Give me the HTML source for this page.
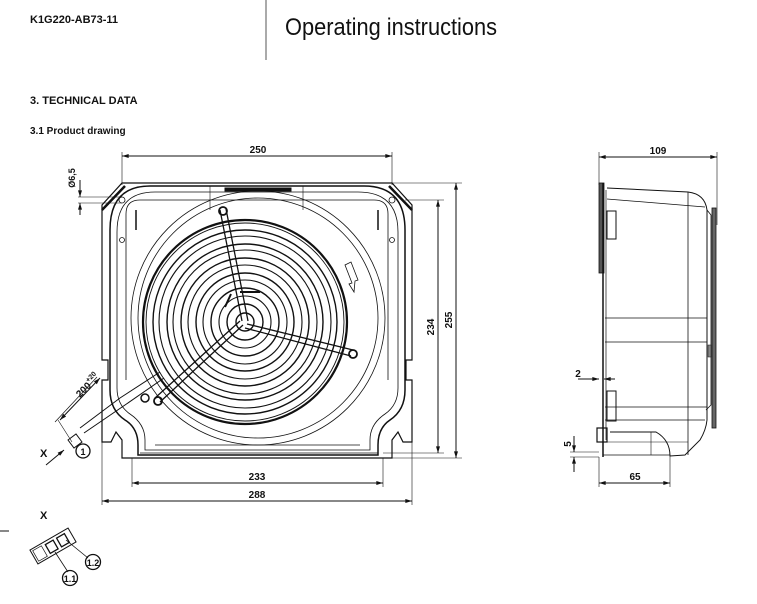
<!DOCTYPE html>
<html><head><meta charset="utf-8"><style>
html,body{margin:0;padding:0;background:#fff}
svg{display:block}
text{font-family:"Liberation Sans",Arial,sans-serif;fill:#111}
</style></head><body>
<svg width="757" height="604" viewBox="0 0 757 604" xmlns="http://www.w3.org/2000/svg">
<defs>
<marker id="a" viewBox="0 0 10 6" refX="10" refY="3" markerWidth="7" markerHeight="4" orient="auto-start-reverse" markerUnits="userSpaceOnUse"><path d="M0,0L10,3L0,6z" fill="#111"/></marker>
</defs>
<text x="30" y="23" font-size="11" font-weight="bold">K1G220-AB73-11</text>
<line x1="266" y1="0" x2="266" y2="60" stroke="#555" stroke-width="1"/>
<text x="285" y="35" font-size="24" textLength="212" lengthAdjust="spacingAndGlyphs">Operating instructions</text>
<text x="30" y="104" font-size="11" font-weight="bold">3. TECHNICAL DATA</text>
<text x="30" y="134" font-size="10" font-weight="bold">3.1 Product drawing</text>

<g fill="none" stroke="#111" stroke-width="1">
<line x1="122" y1="156" x2="392" y2="156" marker-start="url(#a)" marker-end="url(#a)"/>
<line x1="122" y1="152" x2="122" y2="185" stroke-width=".6"/>
<line x1="392" y1="152" x2="392" y2="185" stroke-width=".6"/>
<line x1="456" y1="183" x2="456" y2="458" marker-start="url(#a)" marker-end="url(#a)"/>
<line x1="438" y1="200" x2="438" y2="453" marker-start="url(#a)" marker-end="url(#a)"/>
<line x1="392" y1="183" x2="462" y2="183" stroke-width=".6"/>
<line x1="405" y1="200" x2="444" y2="200" stroke-width=".6"/>
<line x1="383" y1="453" x2="444" y2="453" stroke-width=".6"/>
<line x1="383" y1="458" x2="462" y2="458" stroke-width=".6"/>
<line x1="132" y1="483" x2="383" y2="483" marker-start="url(#a)" marker-end="url(#a)"/>
<line x1="102" y1="501" x2="412" y2="501" marker-start="url(#a)" marker-end="url(#a)"/>
<line x1="132" y1="458" x2="132" y2="487" stroke-width=".6"/>
<line x1="383" y1="458" x2="383" y2="487" stroke-width=".6"/>
<line x1="102" y1="442" x2="102" y2="505" stroke-width=".6"/>
<line x1="412" y1="442" x2="412" y2="505" stroke-width=".6"/>
<line x1="78" y1="197" x2="122" y2="197" stroke-width=".6"/>
<line x1="78" y1="203" x2="122" y2="203" stroke-width=".6"/>
<line x1="80" y1="180" x2="80" y2="197" marker-end="url(#a)"/>
<line x1="80" y1="215" x2="80" y2="203" marker-end="url(#a)"/>

<path d="M122,183 L392,183 L412,205 L412,360 L406,360 L406,380 L412,380 L412,442 L403,442 L398,432 L392,440 L392,458 L122,458 L122,440 L116,432 L111,442 L102,442 L102,380 L108,380 L108,360 L102,360 L102,205 Z" stroke-width="1.2"/>
<path d="M125,186 L102,210 M389,186 L412,210" stroke-width="2.5"/>
<path d="M150,186 L364,186 Q405,186 405,230 L405,390 Q405,410 390,420 Q378,428 378,445 L378,455 L138,455 L138,445 Q138,428 125,420 Q110,410 110,390 L110,230 Q110,186 150,186 Z" stroke-width="1.5"/>
<path d="M155,192 L358,192 Q398,192 398,232 L398,388 Q398,405 385,414 Q370,424 370,440 L370,450 L145,450 L145,440 Q145,424 130,414 Q117,405 117,388 L117,232 Q117,192 155,192 Z" stroke-width=".8"/>
<path d="M140,200 L374,200 Q388,200 388,214 L388,380 M126,380 L126,214 Q126,200 140,200" stroke-width=".8"/>
<path d="M136,210 L136,230 M378,210 L378,230" stroke-width="1.5"/>
<line x1="140" y1="453" x2="378" y2="453" stroke-width=".8"/>
<line x1="155" y1="445" x2="360" y2="445" stroke-width=".8"/>
<rect x="225" y="188" width="66" height="3" fill="#111"/>
<line x1="210" y1="186" x2="210" y2="210" stroke-width=".6"/>
<line x1="303" y1="186" x2="303" y2="210" stroke-width=".6"/>
<circle cx="258" cy="318" r="127" stroke-width=".8"/>
<circle cx="258" cy="318" r="120" stroke-width=".8"/>
<g transform="translate(245,322)">
<circle r="102" stroke-width="2.2"/>
<circle r="99" stroke-width=".9"/>
<circle r="92" stroke-width="1.4"/>
<circle r="86" stroke-width="1.1"/>
<circle r="78" stroke-width="1.4"/>
<circle r="72" stroke-width="1.1"/>
<circle r="64" stroke-width="1.4"/>
<circle r="57" stroke-width="1.1"/>
<circle r="49" stroke-width="1.4"/>
<circle r="42" stroke-width="1.1"/>
<circle r="34" stroke-width="1.4"/>
<circle r="26" stroke-width="1.1"/>
<circle r="18" stroke-width="1.4"/>
<circle r="9" stroke-width="1.4"/>
<path d="M-3,-1 L-25,-112 M3,-1 L-19,-113 M2,2 L108,28 M0,6 L106,34 M-2,3 L-85,80 M-5,-1 L-90,76" stroke-width="1.3"/>
<circle cx="-22" cy="-111" r="4" stroke-width="1.8"/>
<circle cx="108" cy="32" r="4" stroke-width="1.8"/>
<circle cx="-87" cy="79" r="4" stroke-width="1.8"/>
<path d="M-20,-15 L-14,-28 M-5,-30 L15,-30" stroke-width="2"/>
</g>
<path d="M160,372 L120,398 L80,428 M164,378 L125,405 L84,433" stroke-width="1"/>
<circle cx="145" cy="398" r="4" stroke-width="1.5"/>
<path d="M68,440 L76,434 L82,442 L74,448 Z" stroke-width="1"/>
<circle cx="122" cy="200" r="3" stroke-width=".8"/>
<circle cx="392" cy="200" r="3" stroke-width=".8"/>
<circle cx="122" cy="240" r="2.5" stroke-width=".8"/>
<circle cx="392" cy="240" r="2.5" stroke-width=".8"/>
<path d="M345,265 L352,283 L349,284 L354,292 L355,281 L358,280 L351,262 Z" stroke-width=".8"/>
<line x1="55" y1="422" x2="97" y2="377" stroke-width=".7"/>
<line x1="60" y1="420" x2="100" y2="378" marker-start="url(#a)" marker-end="url(#a)"/>
<line x1="72" y1="442" x2="58" y2="420" stroke-width=".6"/>
<line x1="46" y1="465" x2="64" y2="450" marker-end="url(#a)"/>
<circle cx="83" cy="451" r="7" stroke-width="1.3"/>

<line x1="599" y1="157" x2="717" y2="157" marker-start="url(#a)" marker-end="url(#a)"/>
<line x1="599" y1="152" x2="599" y2="185" stroke-width=".6"/>
<line x1="717" y1="152" x2="717" y2="225" stroke-width=".6"/>
<rect x="599" y="183" width="5" height="90" fill="#555" stroke-width=".8"/>
<line x1="603" y1="183" x2="603" y2="457" stroke-width="1.5"/>
<line x1="606" y1="190" x2="606" y2="440" stroke-width=".7"/>
<rect x="607" y="211" width="9" height="28" stroke-width="1"/>
<path d="M607,188 L688,192 Q705,194 707,210 L707,420 Q706,430 700,440 L685,455 L670,456 Q670,440 656,432 L610,432" stroke-width="1"/>
<line x1="607" y1="199" x2="705" y2="207" stroke-width=".8"/>
<line x1="688" y1="192" x2="688" y2="455" stroke-width=".8"/>
<line x1="605" y1="318" x2="707" y2="318" stroke-width=".8"/>
<line x1="605" y1="342" x2="707" y2="342" stroke-width=".8"/>
<line x1="605" y1="407" x2="707" y2="407" stroke-width=".8"/>
<line x1="605" y1="420" x2="705" y2="420" stroke-width=".8"/>
<rect x="712" y="208" width="4" height="220" fill="#666" stroke-width=".8"/>
<path d="M707,210 L711,215 L711,405 L706,410" stroke-width=".8"/>
<rect x="708" y="345" width="3" height="12" fill="#888" stroke-width=".5"/>
<rect x="607" y="391" width="9" height="30" stroke-width="1"/>
<rect x="597" y="428" width="10" height="14" stroke-width="1.2"/>
<line x1="603" y1="455" x2="670" y2="455" stroke-width=".8"/>
<line x1="603" y1="442" x2="688" y2="442" stroke-width=".6"/>
<line x1="651" y1="432" x2="651" y2="455" stroke-width=".6"/>
<line x1="599" y1="483" x2="670" y2="483" marker-start="url(#a)" marker-end="url(#a)"/>
<line x1="599" y1="457" x2="599" y2="487" stroke-width=".6"/>
<line x1="670" y1="455" x2="670" y2="487" stroke-width=".6"/>
<line x1="578" y1="379" x2="599" y2="379" marker-end="url(#a)"/>
<line x1="615" y1="379" x2="604" y2="379" marker-end="url(#a)"/>
<line x1="570" y1="452" x2="599" y2="452" stroke-width=".6"/>
<line x1="570" y1="457" x2="599" y2="457" stroke-width=".6"/>
<line x1="574" y1="436" x2="574" y2="452" marker-end="url(#a)"/>
<line x1="574" y1="472" x2="574" y2="457" marker-end="url(#a)"/>

<line x1="0" y1="531" x2="9" y2="531" stroke-width="1"/>
<g transform="translate(53,546) rotate(-30)">
<rect x="-22" y="-8" width="44" height="16" stroke-width="1"/>
<rect x="-20" y="-6" width="10" height="12" stroke-width=".7"/>
<rect x="-6" y="-5" width="9" height="10" stroke-width="1.3"/>
<rect x="7" y="-5" width="9" height="10" stroke-width="1.3"/>
</g>
<line x1="55" y1="552" x2="68" y2="572" stroke-width=".8"/>
<line x1="66" y1="540" x2="88" y2="558" stroke-width=".8"/>
<circle cx="70" cy="578" r="7.5" stroke-width="1.3"/>
<circle cx="93" cy="562" r="7.5" stroke-width="1.3"/>
</g>
<g font-weight="bold" font-size="10">
<text x="258" y="153" text-anchor="middle">250</text>
<text x="257" y="480" text-anchor="middle">233</text>
<text x="257" y="498" text-anchor="middle">288</text>
<text transform="translate(452,320) rotate(-90)" text-anchor="middle">255</text>
<text transform="translate(434,327) rotate(-90)" text-anchor="middle">234</text>
<text transform="translate(75,178) rotate(-90)" text-anchor="middle" font-size="9">Ø6,5</text>
<text transform="translate(80,398) rotate(-45)" font-size="10">200<tspan font-size="7" dy="-5">+20</tspan></text>
<text x="658" y="154" text-anchor="middle">109</text>
<text x="635" y="480" text-anchor="middle">65</text>
<text x="578" y="377" text-anchor="middle">2</text>
<text transform="translate(571,444) rotate(-90)" text-anchor="middle">5</text>
<text x="40" y="457" font-size="11">X</text>
<text x="40" y="519" font-size="11">X</text>
</g>
<g font-size="9" text-anchor="middle" font-weight="bold">
<text x="83" y="455">1</text>
<text x="70" y="582">1.1</text>
<text x="93" y="566">1.2</text>
</g>
</svg>
</body></html>
